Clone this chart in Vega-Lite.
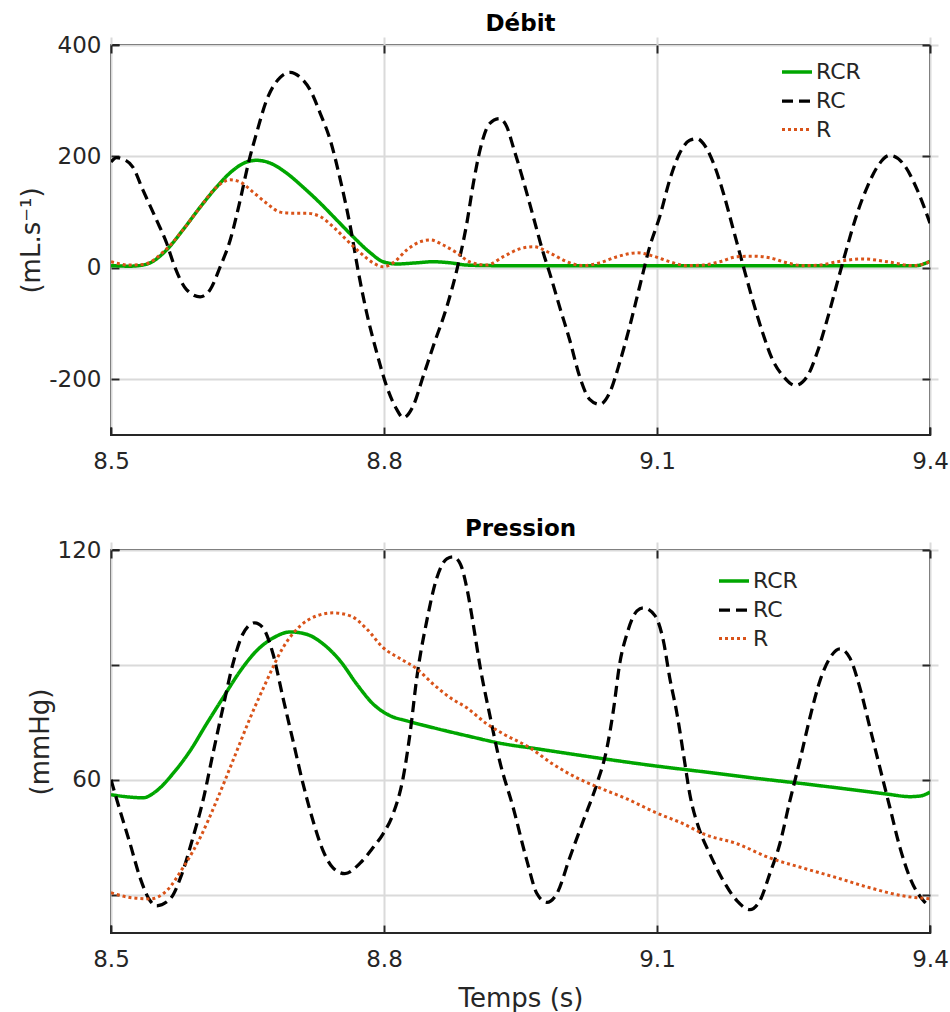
{
  "$schema": "https://vega.github.io/schema/vega-lite/v6.json",
  "background": "white",
  "padding": {"left": 17, "top": 12, "right": 0, "bottom": 0},
  "spacing": 43,
  "config": {
    "font": "DejaVu Sans",
    "view": {"stroke": "#262626", "strokeWidth": 2},
    "axis": {
      "domain": false,
      "grid": true,
      "gridColor": "#dadada",
      "gridWidth": 2,
      "offset": -8,
      "tickColor": "#262626",
      "tickSize": 8,
      "tickWidth": 2,
      "labelFlush": false,
      "labelFont": "DejaVu Sans",
      "labelFontSize": 23,
      "labelColor": "#262626",
      "labelExpr": "replace(datum.label, '−', '-')",
      "titleFont": "DejaVu Sans",
      "titleFontSize": 26,
      "titleFontWeight": "normal",
      "titleColor": "#262626"
    },
    "axisX": {"labelPadding": 15, "titlePadding": 14},
    "axisY": {"labelPadding": 10, "titlePadding": 4},
    "title": {"font": "DejaVu Sans", "fontSize": 23, "fontWeight": "bold", "color": "#000000", "offset": -2, "anchor": "middle"},
    "legend": {
      "orient": "none",
      "title": null,
      "padding": 0,
      "labelFont": "DejaVu Sans",
      "labelFontSize": 22,
      "labelColor": "#262626",
      "labelOffset": 2,
      "symbolType": "stroke",
      "symbolSize": 900,
      "symbolStrokeWidth": 3,
      "rowPadding": 1
    }
  },
  "datasets": {
    "flow": [
      {"t": 8.500, "v": 4, "m": "RCR"}, {"t": 8.520, "v": 3, "m": "RCR"}, {"t": 8.535, "v": 5, "m": "RCR"}, {"t": 8.543, "v": 9, "m": "RCR"},
      {"t": 8.561, "v": 32, "m": "RCR"}, {"t": 8.579, "v": 68, "m": "RCR"}, {"t": 8.598, "v": 109, "m": "RCR"}, {"t": 8.616, "v": 145, "m": "RCR"},
      {"t": 8.634, "v": 175, "m": "RCR"}, {"t": 8.649, "v": 190, "m": "RCR"}, {"t": 8.660, "v": 193, "m": "RCR"}, {"t": 8.675, "v": 188, "m": "RCR"},
      {"t": 8.693, "v": 170, "m": "RCR"}, {"t": 8.711, "v": 145, "m": "RCR"}, {"t": 8.730, "v": 116, "m": "RCR"}, {"t": 8.748, "v": 86, "m": "RCR"},
      {"t": 8.766, "v": 56, "m": "RCR"}, {"t": 8.785, "v": 27, "m": "RCR"}, {"t": 8.799, "v": 11, "m": "RCR"}, {"t": 8.814, "v": 7, "m": "RCR"},
      {"t": 8.836, "v": 9, "m": "RCR"}, {"t": 8.854, "v": 11, "m": "RCR"}, {"t": 8.873, "v": 9, "m": "RCR"}, {"t": 8.891, "v": 5, "m": "RCR"},
      {"t": 8.920, "v": 4, "m": "RCR"}, {"t": 9.000, "v": 4, "m": "RCR"}, {"t": 9.100, "v": 4, "m": "RCR"}, {"t": 9.200, "v": 4, "m": "RCR"},
      {"t": 9.300, "v": 4, "m": "RCR"}, {"t": 9.385, "v": 4, "m": "RCR"}, {"t": 9.393, "v": 7, "m": "RCR"}, {"t": 9.400, "v": 12, "m": "RCR"},

      {"t": 8.500, "v": 190, "m": "RC"}, {"t": 8.506, "v": 198, "m": "RC"}, {"t": 8.512, "v": 196, "m": "RC"}, {"t": 8.524, "v": 181, "m": "RC"},
      {"t": 8.535, "v": 140, "m": "RC"}, {"t": 8.550, "v": 86, "m": "RC"}, {"t": 8.561, "v": 45, "m": "RC"}, {"t": 8.570, "v": 2, "m": "RC"},
      {"t": 8.583, "v": -39, "m": "RC"}, {"t": 8.598, "v": -52, "m": "RC"}, {"t": 8.609, "v": -39, "m": "RC"}, {"t": 8.620, "v": 2, "m": "RC"},
      {"t": 8.631, "v": 50, "m": "RC"}, {"t": 8.642, "v": 122, "m": "RC"}, {"t": 8.651, "v": 188, "m": "RC"}, {"t": 8.660, "v": 242, "m": "RC"},
      {"t": 8.671, "v": 301, "m": "RC"}, {"t": 8.686, "v": 342, "m": "RC"}, {"t": 8.697, "v": 351, "m": "RC"}, {"t": 8.708, "v": 342, "m": "RC"},
      {"t": 8.719, "v": 319, "m": "RC"}, {"t": 8.730, "v": 277, "m": "RC"}, {"t": 8.741, "v": 229, "m": "RC"}, {"t": 8.752, "v": 158, "m": "RC"},
      {"t": 8.763, "v": 74, "m": "RC"}, {"t": 8.772, "v": -9, "m": "RC"}, {"t": 8.781, "v": -81, "m": "RC"}, {"t": 8.792, "v": -152, "m": "RC"},
      {"t": 8.803, "v": -213, "m": "RC"}, {"t": 8.814, "v": -254, "m": "RC"}, {"t": 8.821, "v": -269, "m": "RC"}, {"t": 8.832, "v": -248, "m": "RC"},
      {"t": 8.843, "v": -195, "m": "RC"}, {"t": 8.854, "v": -141, "m": "RC"}, {"t": 8.869, "v": -70, "m": "RC"}, {"t": 8.880, "v": -4, "m": "RC"},
      {"t": 8.891, "v": 80, "m": "RC"}, {"t": 8.898, "v": 150, "m": "RC"}, {"t": 8.906, "v": 215, "m": "RC"}, {"t": 8.916, "v": 259, "m": "RC"},
      {"t": 8.927, "v": 268, "m": "RC"}, {"t": 8.935, "v": 253, "m": "RC"}, {"t": 8.942, "v": 217, "m": "RC"}, {"t": 8.953, "v": 157, "m": "RC"},
      {"t": 8.964, "v": 92, "m": "RC"}, {"t": 8.975, "v": 27, "m": "RC"}, {"t": 8.982, "v": -9, "m": "RC"}, {"t": 8.993, "v": -70, "m": "RC"},
      {"t": 9.004, "v": -129, "m": "RC"}, {"t": 9.015, "v": -195, "m": "RC"}, {"t": 9.026, "v": -236, "m": "RC"}, {"t": 9.037, "v": -245, "m": "RC"},
      {"t": 9.048, "v": -224, "m": "RC"}, {"t": 9.059, "v": -170, "m": "RC"}, {"t": 9.070, "v": -105, "m": "RC"}, {"t": 9.081, "v": -33, "m": "RC"},
      {"t": 9.092, "v": 38, "m": "RC"}, {"t": 9.103, "v": 92, "m": "RC"}, {"t": 9.114, "v": 158, "m": "RC"}, {"t": 9.125, "v": 206, "m": "RC"},
      {"t": 9.136, "v": 229, "m": "RC"}, {"t": 9.144, "v": 232, "m": "RC"}, {"t": 9.151, "v": 223, "m": "RC"}, {"t": 9.162, "v": 188, "m": "RC"},
      {"t": 9.173, "v": 134, "m": "RC"}, {"t": 9.184, "v": 68, "m": "RC"}, {"t": 9.195, "v": 2, "m": "RC"}, {"t": 9.205, "v": -57, "m": "RC"},
      {"t": 9.216, "v": -116, "m": "RC"}, {"t": 9.227, "v": -165, "m": "RC"}, {"t": 9.239, "v": -195, "m": "RC"}, {"t": 9.252, "v": -211, "m": "RC"},
      {"t": 9.265, "v": -195, "m": "RC"}, {"t": 9.276, "v": -152, "m": "RC"}, {"t": 9.287, "v": -93, "m": "RC"}, {"t": 9.298, "v": -27, "m": "RC"},
      {"t": 9.309, "v": 38, "m": "RC"}, {"t": 9.320, "v": 98, "m": "RC"}, {"t": 9.331, "v": 145, "m": "RC"}, {"t": 9.342, "v": 181, "m": "RC"},
      {"t": 9.356, "v": 202, "m": "RC"}, {"t": 9.370, "v": 188, "m": "RC"}, {"t": 9.386, "v": 140, "m": "RC"}, {"t": 9.400, "v": 80, "m": "RC"},

      {"t": 8.500, "v": 11, "m": "R"}, {"t": 8.510, "v": 7, "m": "R"}, {"t": 8.518, "v": 5, "m": "R"}, {"t": 8.535, "v": 6, "m": "R"},
      {"t": 8.561, "v": 34, "m": "R"}, {"t": 8.579, "v": 68, "m": "R"}, {"t": 8.598, "v": 109, "m": "R"}, {"t": 8.616, "v": 145, "m": "R"},
      {"t": 8.631, "v": 158, "m": "R"}, {"t": 8.642, "v": 154, "m": "R"}, {"t": 8.656, "v": 136, "m": "R"}, {"t": 8.671, "v": 116, "m": "R"},
      {"t": 8.686, "v": 100, "m": "R"}, {"t": 8.700, "v": 98, "m": "R"}, {"t": 8.715, "v": 98, "m": "R"}, {"t": 8.730, "v": 92, "m": "R"},
      {"t": 8.744, "v": 74, "m": "R"}, {"t": 8.759, "v": 50, "m": "R"}, {"t": 8.774, "v": 27, "m": "R"}, {"t": 8.788, "v": 9, "m": "R"},
      {"t": 8.799, "v": 2, "m": "R"}, {"t": 8.810, "v": 9, "m": "R"}, {"t": 8.825, "v": 32, "m": "R"}, {"t": 8.840, "v": 47, "m": "R"},
      {"t": 8.851, "v": 50, "m": "R"}, {"t": 8.865, "v": 41, "m": "R"}, {"t": 8.880, "v": 27, "m": "R"}, {"t": 8.895, "v": 10, "m": "R"},
      {"t": 8.913, "v": 5, "m": "R"}, {"t": 8.931, "v": 20, "m": "R"}, {"t": 8.949, "v": 34, "m": "R"}, {"t": 8.964, "v": 38, "m": "R"},
      {"t": 8.982, "v": 27, "m": "R"}, {"t": 9.001, "v": 11, "m": "R"}, {"t": 9.019, "v": 4, "m": "R"}, {"t": 9.037, "v": 9, "m": "R"},
      {"t": 9.056, "v": 20, "m": "R"}, {"t": 9.078, "v": 27, "m": "R"}, {"t": 9.096, "v": 21, "m": "R"}, {"t": 9.114, "v": 11, "m": "R"},
      {"t": 9.133, "v": 4, "m": "R"}, {"t": 9.151, "v": 5, "m": "R"}, {"t": 9.169, "v": 11, "m": "R"}, {"t": 9.188, "v": 20, "m": "R"},
      {"t": 9.205, "v": 21, "m": "R"}, {"t": 9.224, "v": 18, "m": "R"}, {"t": 9.243, "v": 9, "m": "R"}, {"t": 9.260, "v": 4, "m": "R"},
      {"t": 9.279, "v": 5, "m": "R"}, {"t": 9.298, "v": 11, "m": "R"}, {"t": 9.326, "v": 16, "m": "R"}, {"t": 9.353, "v": 11, "m": "R"},
      {"t": 9.381, "v": 4, "m": "R"}, {"t": 9.400, "v": 11, "m": "R"}
    ],
    "press": [
      {"t": 8.500, "p": 56.1, "m": "RCR"}, {"t": 8.520, "p": 55.5, "m": "RCR"}, {"t": 8.535, "p": 55.3, "m": "RCR"}, {"t": 8.550, "p": 57.1, "m": "RCR"},
      {"t": 8.568, "p": 61.6, "m": "RCR"}, {"t": 8.587, "p": 67.6, "m": "RCR"}, {"t": 8.605, "p": 74.6, "m": "RCR"}, {"t": 8.623, "p": 81.4, "m": "RCR"},
      {"t": 8.642, "p": 88.4, "m": "RCR"}, {"t": 8.660, "p": 93.7, "m": "RCR"}, {"t": 8.678, "p": 97.0, "m": "RCR"}, {"t": 8.697, "p": 98.6, "m": "RCR"},
      {"t": 8.715, "p": 98.0, "m": "RCR"}, {"t": 8.733, "p": 95.5, "m": "RCR"}, {"t": 8.752, "p": 91.0, "m": "RCR"}, {"t": 8.770, "p": 85.0, "m": "RCR"},
      {"t": 8.788, "p": 79.8, "m": "RCR"}, {"t": 8.807, "p": 76.7, "m": "RCR"}, {"t": 8.825, "p": 75.4, "m": "RCR"}, {"t": 8.854, "p": 73.6, "m": "RCR"},
      {"t": 8.891, "p": 71.5, "m": "RCR"}, {"t": 8.931, "p": 69.4, "m": "RCR"}, {"t": 8.968, "p": 68.1, "m": "RCR"}, {"t": 9.004, "p": 66.8, "m": "RCR"},
      {"t": 9.041, "p": 65.5, "m": "RCR"}, {"t": 9.099, "p": 63.6, "m": "RCR"}, {"t": 9.151, "p": 62.1, "m": "RCR"}, {"t": 9.205, "p": 60.5, "m": "RCR"},
      {"t": 9.260, "p": 59.0, "m": "RCR"}, {"t": 9.315, "p": 57.4, "m": "RCR"}, {"t": 9.352, "p": 56.3, "m": "RCR"}, {"t": 9.378, "p": 55.6, "m": "RCR"},
      {"t": 9.390, "p": 55.8, "m": "RCR"}, {"t": 9.400, "p": 56.8, "m": "RCR"},

      {"t": 8.500, "p": 60.0, "m": "RC"}, {"t": 8.510, "p": 51.9, "m": "RC"}, {"t": 8.521, "p": 43.3, "m": "RC"}, {"t": 8.532, "p": 34.4, "m": "RC"},
      {"t": 8.543, "p": 28.4, "m": "RC"}, {"t": 8.550, "p": 27.1, "m": "RC"}, {"t": 8.565, "p": 28.9, "m": "RC"}, {"t": 8.578, "p": 35.5, "m": "RC"},
      {"t": 8.590, "p": 44.9, "m": "RC"}, {"t": 8.601, "p": 54.5, "m": "RC"}, {"t": 8.612, "p": 66.8, "m": "RC"}, {"t": 8.623, "p": 78.8, "m": "RC"},
      {"t": 8.634, "p": 90.3, "m": "RC"}, {"t": 8.645, "p": 98.1, "m": "RC"}, {"t": 8.658, "p": 101.0, "m": "RC"}, {"t": 8.667, "p": 99.7, "m": "RC"},
      {"t": 8.678, "p": 92.9, "m": "RC"}, {"t": 8.689, "p": 81.4, "m": "RC"}, {"t": 8.700, "p": 70.2, "m": "RC"}, {"t": 8.711, "p": 59.0, "m": "RC"},
      {"t": 8.722, "p": 49.3, "m": "RC"}, {"t": 8.733, "p": 41.5, "m": "RC"}, {"t": 8.744, "p": 37.0, "m": "RC"}, {"t": 8.757, "p": 35.5, "m": "RC"},
      {"t": 8.774, "p": 38.3, "m": "RC"}, {"t": 8.788, "p": 42.3, "m": "RC"}, {"t": 8.799, "p": 45.9, "m": "RC"}, {"t": 8.810, "p": 51.1, "m": "RC"},
      {"t": 8.821, "p": 60.5, "m": "RC"}, {"t": 8.829, "p": 72.8, "m": "RC"}, {"t": 8.836, "p": 86.6, "m": "RC"}, {"t": 8.847, "p": 101.5, "m": "RC"},
      {"t": 8.858, "p": 112.7, "m": "RC"}, {"t": 8.869, "p": 117.7, "m": "RC"}, {"t": 8.876, "p": 118.2, "m": "RC"}, {"t": 8.884, "p": 116.3, "m": "RC"},
      {"t": 8.891, "p": 110.1, "m": "RC"}, {"t": 8.898, "p": 100.7, "m": "RC"}, {"t": 8.906, "p": 89.0, "m": "RC"}, {"t": 8.916, "p": 77.2, "m": "RC"},
      {"t": 8.927, "p": 65.0, "m": "RC"}, {"t": 8.942, "p": 52.7, "m": "RC"}, {"t": 8.957, "p": 38.9, "m": "RC"}, {"t": 8.968, "p": 30.3, "m": "RC"},
      {"t": 8.979, "p": 28.0, "m": "RC"}, {"t": 8.990, "p": 30.3, "m": "RC"}, {"t": 9.004, "p": 39.6, "m": "RC"}, {"t": 9.019, "p": 49.3, "m": "RC"},
      {"t": 9.034, "p": 59.0, "m": "RC"}, {"t": 9.045, "p": 68.3, "m": "RC"}, {"t": 9.052, "p": 78.0, "m": "RC"}, {"t": 9.059, "p": 90.3, "m": "RC"},
      {"t": 9.067, "p": 98.1, "m": "RC"}, {"t": 9.078, "p": 104.1, "m": "RC"}, {"t": 9.085, "p": 104.9, "m": "RC"}, {"t": 9.098, "p": 102.8, "m": "RC"},
      {"t": 9.107, "p": 96.3, "m": "RC"}, {"t": 9.114, "p": 86.6, "m": "RC"}, {"t": 9.122, "p": 77.2, "m": "RC"}, {"t": 9.129, "p": 66.8, "m": "RC"},
      {"t": 9.136, "p": 56.3, "m": "RC"}, {"t": 9.147, "p": 46.7, "m": "RC"}, {"t": 9.158, "p": 40.7, "m": "RC"}, {"t": 9.173, "p": 33.6, "m": "RC"},
      {"t": 9.188, "p": 28.4, "m": "RC"}, {"t": 9.202, "p": 26.1, "m": "RC"}, {"t": 9.213, "p": 28.4, "m": "RC"}, {"t": 9.224, "p": 35.5, "m": "RC"},
      {"t": 9.235, "p": 43.3, "m": "RC"}, {"t": 9.246, "p": 54.5, "m": "RC"}, {"t": 9.257, "p": 65.0, "m": "RC"}, {"t": 9.268, "p": 76.2, "m": "RC"},
      {"t": 9.279, "p": 85.8, "m": "RC"}, {"t": 9.290, "p": 91.8, "m": "RC"}, {"t": 9.301, "p": 94.2, "m": "RC"}, {"t": 9.312, "p": 91.8, "m": "RC"},
      {"t": 9.323, "p": 84.0, "m": "RC"}, {"t": 9.334, "p": 73.6, "m": "RC"}, {"t": 9.345, "p": 63.1, "m": "RC"}, {"t": 9.356, "p": 52.7, "m": "RC"},
      {"t": 9.367, "p": 42.3, "m": "RC"}, {"t": 9.378, "p": 34.4, "m": "RC"}, {"t": 9.393, "p": 28.4, "m": "RC"}, {"t": 9.400, "p": 27.0, "m": "RC"},

      {"t": 8.500, "p": 30.5, "m": "R"}, {"t": 8.523, "p": 29.2, "m": "R"}, {"t": 8.543, "p": 28.9, "m": "R"}, {"t": 8.561, "p": 31.0, "m": "R"},
      {"t": 8.579, "p": 37.0, "m": "R"}, {"t": 8.598, "p": 44.9, "m": "R"}, {"t": 8.616, "p": 54.5, "m": "R"}, {"t": 8.634, "p": 65.0, "m": "R"},
      {"t": 8.653, "p": 76.2, "m": "R"}, {"t": 8.671, "p": 85.8, "m": "R"}, {"t": 8.689, "p": 94.5, "m": "R"}, {"t": 8.708, "p": 100.2, "m": "R"},
      {"t": 8.726, "p": 102.8, "m": "R"}, {"t": 8.744, "p": 103.6, "m": "R"}, {"t": 8.763, "p": 102.8, "m": "R"}, {"t": 8.781, "p": 99.4, "m": "R"},
      {"t": 8.799, "p": 94.5, "m": "R"}, {"t": 8.818, "p": 91.6, "m": "R"}, {"t": 8.836, "p": 89.0, "m": "R"}, {"t": 8.854, "p": 85.0, "m": "R"},
      {"t": 8.873, "p": 81.4, "m": "R"}, {"t": 8.891, "p": 78.8, "m": "R"}, {"t": 8.913, "p": 74.6, "m": "R"}, {"t": 8.931, "p": 72.0, "m": "R"},
      {"t": 8.960, "p": 68.4, "m": "R"}, {"t": 8.985, "p": 64.2, "m": "R"}, {"t": 9.012, "p": 60.5, "m": "R"}, {"t": 9.037, "p": 57.9, "m": "R"},
      {"t": 9.067, "p": 55.0, "m": "R"}, {"t": 9.099, "p": 51.4, "m": "R"}, {"t": 9.129, "p": 48.5, "m": "R"}, {"t": 9.151, "p": 45.9, "m": "R"},
      {"t": 9.188, "p": 43.3, "m": "R"}, {"t": 9.224, "p": 39.6, "m": "R"}, {"t": 9.260, "p": 37.0, "m": "R"}, {"t": 9.298, "p": 34.4, "m": "R"},
      {"t": 9.334, "p": 31.8, "m": "R"}, {"t": 9.370, "p": 29.7, "m": "R"}, {"t": 9.400, "p": 28.9, "m": "R"}
    ]
  },
  "resolve": {
    "scale": {"color": "independent", "strokeDash": "independent", "strokeWidth": "independent"},
    "legend": {"color": "independent", "strokeDash": "independent"}
  },
  "vconcat": [
    {
      "title": "Débit",
      "width": 819,
      "height": 390,
      "data": {"name": "flow"},
      "resolve": {"axis": {"x": "independent", "y": "independent"}},
      "layer": [
        {
          "mark": {"type": "line", "interpolate": "monotone", "clip": true},
          "encoding": {
            "x": {"field": "t", "type": "quantitative", "scale": {"domain": [8.5, 9.4], "nice": false},
                  "axis": {"title": null, "orient": "bottom", "values": [8.5, 8.8, 9.1, 9.4], "format": ".1f"}},
            "y": {"field": "v", "type": "quantitative", "scale": {"domain": [-300, 400], "nice": false},
                  "axis": {"title": "(mL.s⁻¹)", "orient": "left", "values": [-200, 0, 200, 400]}},
            "color": {"field": "m", "type": "nominal",
                      "scale": {"domain": ["RCR", "RC", "R"], "range": ["#00a600", "#000000", "#d95319"]},
                      "legend": {"legendX": 669, "legendY": 10}},
            "strokeDash": {"field": "m", "type": "nominal",
                           "scale": {"domain": ["RCR", "RC", "R"], "range": [[1, 0], [11, 6], [3, 3]]},
                           "legend": {"legendX": 669, "legendY": 10}},
            "strokeWidth": {"field": "m", "type": "nominal",
                            "scale": {"domain": ["RCR", "RC", "R"], "range": [3.5, 3, 3]}, "legend": null}
          }
        },
        {
          "mark": {"type": "point", "opacity": 0},
          "encoding": {
            "x": {"field": "t", "type": "quantitative",
                  "axis": {"title": null, "orient": "top", "values": [8.5, 8.8, 9.1, 9.4], "labels": false, "grid": false}},
            "y": {"field": "v", "type": "quantitative",
                  "axis": {"title": null, "orient": "right", "values": [-200, 0, 200, 400], "labels": false, "grid": false}}
          }
        }
      ]
    },
    {
      "title": "Pression",
      "width": 819,
      "height": 383,
      "data": {"name": "press"},
      "resolve": {"axis": {"x": "independent", "y": "independent"}},
      "layer": [
        {
          "mark": {"type": "line", "interpolate": "monotone", "clip": true},
          "encoding": {
            "x": {"field": "t", "type": "quantitative", "scale": {"domain": [8.5, 9.4], "nice": false},
                  "axis": {"title": "Temps (s)", "orient": "bottom", "values": [8.5, 8.8, 9.1, 9.4], "format": ".1f"}},
            "y": {"field": "p", "type": "quantitative", "scale": {"domain": [20, 120], "nice": false},
                  "axis": {"title": "(mmHg)", "orient": "left", "values": [30, 60, 90, 120],
                           "labelExpr": "datum.value == 60 || datum.value == 120 ? datum.label : ''"}},
            "color": {"field": "m", "type": "nominal",
                      "scale": {"domain": ["RCR", "RC", "R"], "range": ["#00a600", "#000000", "#d95319"]},
                      "legend": {"legendX": 606, "legendY": 14}},
            "strokeDash": {"field": "m", "type": "nominal",
                           "scale": {"domain": ["RCR", "RC", "R"], "range": [[1, 0], [11, 6], [3, 3]]},
                           "legend": {"legendX": 606, "legendY": 14}},
            "strokeWidth": {"field": "m", "type": "nominal",
                            "scale": {"domain": ["RCR", "RC", "R"], "range": [3.5, 3, 3]}, "legend": null}
          }
        },
        {
          "mark": {"type": "point", "opacity": 0},
          "encoding": {
            "x": {"field": "t", "type": "quantitative",
                  "axis": {"title": null, "orient": "top", "values": [8.5, 8.8, 9.1, 9.4], "labels": false, "grid": false}},
            "y": {"field": "p", "type": "quantitative",
                  "axis": {"title": null, "orient": "right", "values": [30, 60, 90, 120], "labels": false, "grid": false}}
          }
        }
      ]
    }
  ]
}
